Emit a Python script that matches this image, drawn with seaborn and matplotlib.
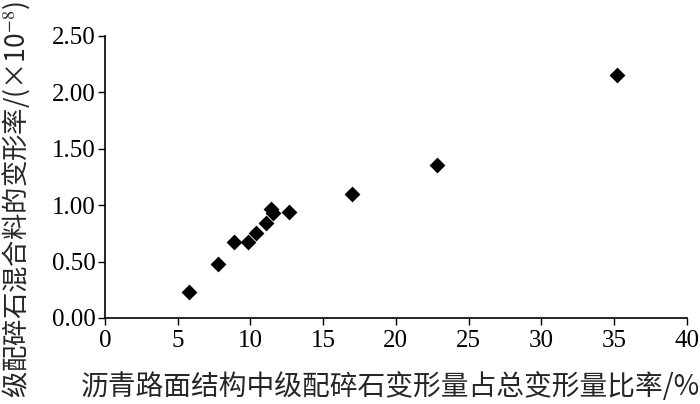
import matplotlib
matplotlib.use("Agg")
import matplotlib.pyplot as plt
import pandas as pd
import seaborn as sns

# share of graded gravel deformation in total pavement deformation (%)
ratio_pct = [5.8, 7.8, 8.9, 9.8, 10.35, 11.05, 11.4, 11.55, 12.65, 17.0, 22.8, 35.2]
# deformation rate of graded gravel mixture (x1e-8)
deform_rate = [0.23, 0.48, 0.67, 0.67, 0.75, 0.84, 0.97, 0.93, 0.94, 1.10, 1.36, 2.15]

x_ticks = [0, 5, 10, 15, 20, 25, 30, 35, 40]
y_ticks = [0.0, 0.5, 1.0, 1.5, 2.0, 2.5]

xlabel = "沥青路面结构中级配碎石变形量占总变形量比率/%"
ylabel = "级配碎石混合料的变形率/(×10$^{-8}$)"

df = pd.DataFrame({"ratio": ratio_pct, "rate": deform_rate})

sns.set_style("ticks")
plt.rcParams["font.family"] = ["Liberation Serif", "Noto Sans CJK SC", "DejaVu Sans"]
plt.rcParams["mathtext.fontset"] = "stix"

fig = plt.figure(figsize=(7, 4.04), dpi=100)
ax = fig.add_axes([0.15, 0.213, 0.831, 0.698])

sns.scatterplot(data=df, x="ratio", y="rate", marker="D", s=65, color="black",
                linewidth=0, ax=ax)

ax.set_xlim(0, 40)
ax.set_ylim(0, 2.5)
ax.set_xticks(x_ticks)
ax.set_yticks(y_ticks)
ax.set_yticklabels([f"{v:.2f}" for v in y_ticks])
ax.tick_params(axis="x", pad=4)
ax.tick_params(direction="out", length=5, width=1, labelsize=18, colors="black")
ax.tick_params(axis="y", pad=2)
for s in ["left", "bottom"]:
    ax.spines[s].set_linewidth(1.2)
    ax.spines[s].set_color("black")
sns.despine(ax=ax)

ax.set_xlabel(xlabel, fontsize=20, fontfamily="Noto Sans CJK SC")
ax.set_ylabel(ylabel, fontsize=19, fontfamily="Noto Sans CJK SC")
ax.xaxis.set_label_coords(0.49, -0.19)
ax.yaxis.set_label_coords(-0.125, 0.42)

fig.savefig("out.png", dpi=100)
